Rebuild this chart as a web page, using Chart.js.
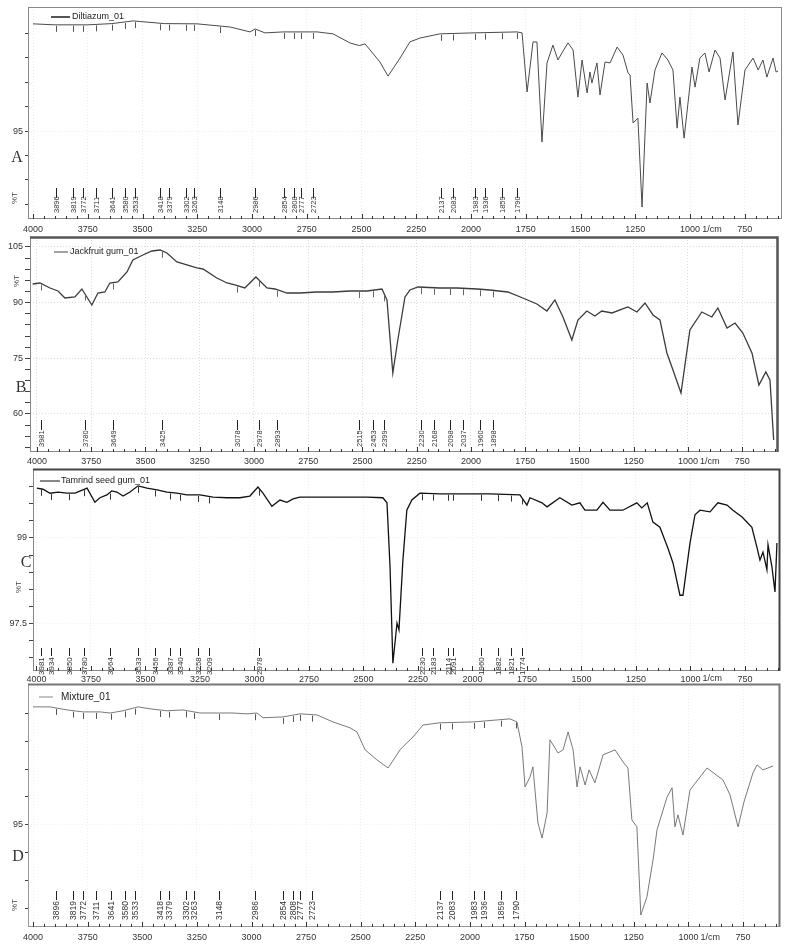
<!DOCTYPE html>
<html>
<head>
<meta charset="utf-8">
<script src="https://cdn.jsdelivr.net/npm/chart.js@4"></script>
<style>
  body { margin: 0; background: #fff; }
  #wrap { position: relative; width: 789px; height: 948px; overflow: hidden; }
  canvas { position: absolute; left: 0; }
</style>
</head>
<body>
<div id="wrap">
  <canvas id="chartA"></canvas>
  <canvas id="chartB"></canvas>
  <canvas id="chartC"></canvas>
  <canvas id="chartD"></canvas>
</div>
<script>
// wavenumber tick labels (1/cm), shared by all four spectra
const xTicks = [4000, 3750, 3500, 3250, 3000, 2750, 2500, 2250, 2000, 1750, 1500, 1250, 1000, 750];
const xUnit = '1/cm';

// A - Diltiazum
const nameA = 'Diltiazum_01';
const wavesA = [4000, 3900, 3750, 3640, 3543, 3400, 3251, 3100, 3009, 2986, 2941, 2858, 2703, 2630, 2553, 2510, 2484, 2416, 2379, 2324, 2279, 2233, 2142, 1991, 1790, 1767, 1744, 1717, 1699, 1676, 1653, 1626, 1603, 1585, 1557, 1534, 1512, 1493, 1470, 1457, 1448, 1425, 1411, 1388, 1365, 1333, 1306, 1283, 1274, 1260, 1238, 1219, 1196, 1183, 1160, 1128, 1101, 1078, 1059, 1046, 1027, 991, 977, 955, 932, 913, 886, 863, 840, 804, 781, 749, 712, 689, 667, 649, 621, 607, 598];
const transA = [99.39, 99.35, 99.35, 99.40, 99.51, 99.40, 99.39, 99.26, 99.06, 99.18, 99.02, 99.06, 99.06, 98.98, 98.61, 98.50, 98.57, 97.83, 97.25, 97.99, 98.65, 98.81, 98.98, 99.02, 99.06, 99.02, 96.60, 98.65, 98.65, 94.55, 97.79, 98.52, 97.91, 98.20, 98.61, 98.32, 96.39, 97.91, 96.56, 97.42, 96.97, 97.79, 96.48, 97.83, 97.79, 98.44, 98.11, 97.38, 97.30, 95.33, 95.53, 91.89, 96.97, 96.15, 97.50, 98.20, 97.91, 97.50, 95.12, 96.39, 94.71, 97.62, 96.80, 97.99, 98.20, 97.42, 98.32, 97.99, 96.27, 98.24, 95.25, 97.50, 97.99, 97.50, 97.91, 97.21, 97.99, 97.42, 97.46];
const peaksA = [3896, 3819, 3772, 3711, 3641, 3580, 3533, 3418, 3379, 3302, 3263, 3148, 2986, 2854, 2808, 2777, 2723, 2137, 2083, 1983, 1936, 1859, 1790];
const yTicksA = [92, 93, 94, 95, 96, 97, 98, 99];
const yLabelsA = [95];

// B - Jackfruit gum
const nameB = 'Jackfruit gum_01';
const wavesB = [4020, 3986, 3940, 3903, 3871, 3825, 3793, 3770, 3747, 3719, 3687, 3664, 3627, 3585, 3558, 3512, 3470, 3433, 3401, 3355, 3309, 3263, 3235, 3171, 3124, 3088, 3042, 2991, 2940, 2903, 2848, 2788, 2710, 2636, 2558, 2479, 2410, 2387, 2360, 2337, 2304, 2281, 2244, 2143, 2065, 1972, 1913, 1830, 1761, 1696, 1650, 1613, 1576, 1535, 1507, 1466, 1429, 1397, 1350, 1277, 1235, 1198, 1161, 1129, 1097, 1069, 1032, 991, 936, 890, 862, 820, 783, 747, 705, 673, 641, 622, 605];
const transB = [95.03, 95.30, 93.95, 93.14, 91.26, 91.53, 93.68, 91.53, 89.37, 92.60, 92.87, 95.30, 95.57, 98.26, 101.50, 102.84, 103.92, 104.19, 103.38, 100.96, 100.15, 99.34, 99.07, 96.65, 95.30, 94.76, 93.95, 96.92, 93.95, 93.68, 92.60, 92.60, 92.87, 92.87, 93.14, 93.14, 93.68, 90.72, 71.05, 79.94, 91.53, 93.41, 94.22, 93.95, 93.95, 93.68, 93.41, 92.87, 91.26, 89.64, 87.75, 90.72, 86.14, 79.94, 85.33, 87.75, 86.41, 87.75, 87.22, 88.83, 87.48, 89.91, 86.68, 85.33, 76.44, 71.86, 65.66, 82.63, 87.48, 86.14, 88.56, 83.17, 84.52, 81.83, 76.44, 67.81, 71.32, 69.16, 53.0];
const peaksB = [3981, 3780, 3649, 3425, 3078, 2978, 2893, 2515, 2453, 2399, 2230, 2168, 2098, 2037, 1960, 1898];
const yTicksB = [51, 54, 57, 60, 63, 66, 69, 72, 75, 78, 81, 84, 87, 90, 93, 96, 99, 102, 105];
const yLabelsB = [60, 75, 90, 105];

// C - Tamrind seed gum
const nameC = 'Tamrind seed gum_01';
const wavesC = [3998, 3970, 3938, 3901, 3860, 3823, 3787, 3768, 3732, 3709, 3677, 3655, 3631, 3603, 3571, 3534, 3493, 3447, 3401, 3356, 3310, 3250, 3190, 3126, 3067, 3021, 2984, 2961, 2920, 2883, 2851, 2823, 2791, 2713, 2640, 2562, 2484, 2411, 2392, 2378, 2365, 2346, 2337, 2319, 2301, 2278, 2241, 2149, 2071, 1920, 1782, 1750, 1736, 1681, 1658, 1599, 1544, 1507, 1484, 1429, 1401, 1369, 1310, 1246, 1223, 1198, 1172, 1140, 1103, 1080, 1048, 1034, 1002, 979, 956, 910, 874, 832, 805, 763, 718, 695, 681, 667, 649, 644, 626, 612, 603];
const transC = [99.88, 99.86, 99.79, 99.81, 99.79, 99.79, 99.85, 99.88, 99.63, 99.71, 99.76, 99.83, 99.81, 99.74, 99.81, 99.92, 99.88, 99.85, 99.81, 99.79, 99.76, 99.76, 99.72, 99.71, 99.71, 99.74, 99.90, 99.79, 99.56, 99.67, 99.63, 99.69, 99.72, 99.72, 99.72, 99.72, 99.72, 99.71, 99.62, 98.49, 96.79, 97.50, 97.38, 98.61, 99.49, 99.67, 99.79, 99.78, 99.78, 99.78, 99.76, 99.58, 99.71, 99.62, 99.55, 99.71, 99.58, 99.62, 99.49, 99.49, 99.63, 99.49, 99.49, 99.62, 99.53, 99.62, 99.28, 99.19, 98.82, 98.56, 97.99, 97.99, 98.91, 99.41, 99.49, 99.46, 99.62, 99.58, 99.49, 99.37, 99.19, 98.84, 98.61, 98.75, 98.44, 98.88, 98.49, 98.05, 98.91];
const peaksC = [3981, 3934, 3850, 3780, 3664, 3533, 3456, 3387, 3340, 3258, 3209, 2978, 2230, 2183, 2114, 2091, 1960, 1882, 1821, 1774];
const yTicksC = [99.9, 99.6, 99.3, 99, 98.7, 98.4, 98.1, 97.8, 97.5, 97.2, 96.9];
const yLabelsC = [99, 97.5];

// D - Mixture
const nameD = 'Mixture_01';
const wavesD = [4000, 3922, 3844, 3771, 3693, 3648, 3588, 3519, 3464, 3387, 3313, 3236, 3085, 3021, 2975, 2947, 2856, 2778, 2700, 2627, 2549, 2517, 2480, 2426, 2375, 2320, 2307, 2261, 2215, 2137, 1986, 1817, 1785, 1762, 1748, 1725, 1712, 1689, 1670, 1647, 1634, 1597, 1574, 1551, 1528, 1510, 1496, 1473, 1455, 1428, 1391, 1336, 1300, 1277, 1259, 1236, 1218, 1190, 1162, 1144, 1098, 1075, 1062, 1048, 1025, 993, 915, 842, 810, 773, 746, 705, 686, 659, 613];
const transD = [99.23, 99.23, 99.12, 99.05, 99.05, 99.01, 99.09, 99.23, 99.16, 99.09, 99.12, 99.01, 99.01, 98.98, 99.01, 98.84, 98.87, 98.98, 98.94, 98.69, 98.48, 98.33, 97.69, 97.33, 97.04, 97.69, 97.80, 98.15, 98.58, 98.66, 98.69, 98.80, 98.69, 97.80, 96.36, 96.72, 97.08, 95.07, 94.53, 95.43, 98.05, 97.58, 97.69, 98.33, 97.69, 96.36, 97.08, 96.43, 96.97, 96.51, 97.51, 97.69, 97.26, 97.04, 95.18, 94.93, 91.77, 92.42, 93.75, 94.82, 96.00, 96.33, 94.93, 95.36, 94.64, 96.25, 97.04, 96.61, 96.08, 94.93, 95.82, 96.86, 97.15, 96.97, 97.11];
const peaksD = [3896, 3819, 3772, 3711, 3641, 3580, 3533, 3418, 3379, 3302, 3263, 3148, 2986, 2854, 2808, 2777, 2723, 2137, 2083, 1983, 1936, 1859, 1790];
const yTicksD = [92, 93, 94, 95, 96, 97, 98, 99];
const yLabelsD = [95];

const FONT = '"Liberation Sans", Arial, sans-serif';

// %T at a wavenumber (for the little peak marks)
function valueAt(w, waves, trans) {
    for (let i = 0; i < waves.length - 1; i++) {
        if (waves[i] >= w && waves[i + 1] <= w) {
            const f = (waves[i] - w) / (waves[i] - waves[i + 1]);
            return trans[i] + (trans[i + 1] - trans[i]) * f;
        }
    }
    return trans[trans.length - 1];
}

const panelPlugin = {
    id: 'panel',
    afterDraw(chart, args, o) {
        const ctx = chart.ctx, a = chart.chartArea;
        const xs = chart.scales.x, ys = chart.scales.y;
        const off = o.top;
        ctx.save();

        // plot frame
        ctx.strokeStyle = o.frame;
        ctx.lineWidth = 1;
        ctx.strokeRect(a.left + 0.5, a.top + 0.5, a.width - 1, a.height - 1);
        if (o.heavy) {
            ctx.lineWidth = o.heavy;
            ctx.strokeStyle = o.heavyColor;
            ctx.beginPath();
            ctx.moveTo(a.left, a.top + 0.5);
            ctx.lineTo(a.right - 0.5, a.top + 0.5);
            ctx.lineTo(a.right - 0.5, a.bottom);
            ctx.stroke();
        }

        // inner ticks on the wavenumber axis, every 50 1/cm
        ctx.strokeStyle = '#333';
        ctx.lineWidth = 1;
        for (let w = 4000; w >= 600; w -= 50) {
            const px = Math.round(xs.getPixelForValue(w)) + 0.5;
            const len = w % 250 === 0 ? 5 : 3;
            ctx.beginPath();
            ctx.moveTo(px, a.bottom);
            ctx.lineTo(px, a.bottom - len);
            ctx.stroke();
        }

        // unit label in the tick row
        ctx.fillStyle = '#333';
        ctx.font = '9px ' + FONT;
        ctx.textAlign = 'center';
        ctx.textBaseline = 'middle';
        ctx.fillText(xUnit, xs.getPixelForValue(900), o.labelY - off);

        // peak annotations
        const waves = o.waves, trans = o.trans;
        ctx.strokeStyle = '#222';
        ctx.fillStyle = '#333';
        ctx.font = o.peakFont + 'px ' + FONT;
        o.peaks.forEach(w => {
            const px = Math.round(xs.getPixelForValue(w)) + 0.5;
            ctx.beginPath();
            ctx.moveTo(px, o.lineTop - off);
            ctx.lineTo(px, o.lineBottom - off);
            ctx.stroke();
            ctx.save();
            ctx.translate(px, o.textBottom - off);
            ctx.rotate(-Math.PI / 2);
            ctx.textAlign = 'left';
            ctx.textBaseline = 'middle';
            ctx.fillText(String(w), 0, 0);
            ctx.restore();
            const cy = ys.getPixelForValue(valueAt(w, waves, trans));
            ctx.strokeStyle = o.markColor;
            ctx.beginPath();
            ctx.moveTo(px, cy + 1);
            ctx.lineTo(px, cy + 7);
            ctx.stroke();
            ctx.strokeStyle = '#222';
        });

        // legend
        ctx.strokeStyle = o.legendLine;
        ctx.lineWidth = o.legendWidth;
        ctx.beginPath();
        ctx.moveTo(o.legend[0], o.legend[2] - off);
        ctx.lineTo(o.legend[1], o.legend[2] - off);
        ctx.stroke();
        ctx.fillStyle = '#222';
        ctx.font = o.legendFont + 'px ' + FONT;
        ctx.textAlign = 'left';
        ctx.textBaseline = 'middle';
        ctx.fillText(chart.data.datasets[0].label, o.legend[3], o.legend[2] - off);

        // %T and panel letter
        ctx.save();
        ctx.translate(o.tPos[0], o.tPos[1] - off);
        ctx.rotate(-Math.PI / 2);
        ctx.font = '8px ' + FONT;
        ctx.fillStyle = '#444';
        ctx.textAlign = 'center';
        ctx.fillText('%T', 0, 0);
        ctx.restore();
        ctx.font = '16px "Liberation Serif", "DejaVu Serif", serif';
        ctx.fillStyle = '#333';
        ctx.textAlign = 'center';
        ctx.textBaseline = 'middle';
        ctx.fillText(o.letter, o.letterPos[0], o.letterPos[1] - off);

        ctx.restore();
    }
};

function makePanel(id, p) {
    const canvas = document.getElementById(id);
    const h = p.canvasBottom - p.top;
    canvas.width = 789;
    canvas.height = h;
    canvas.style.top = p.top + 'px';
    canvas.style.width = '789px';
    canvas.style.height = h + 'px';

    new Chart(canvas, {
        type: 'line',
        data: {
            datasets: [{
                label: p.name,
                data: p.waves.map((w, i) => ({ x: w, y: p.trans[i] })),
                borderColor: p.color,
                borderWidth: p.width,
                pointRadius: 0,
                tension: 0,
                fill: false
            }]
        },
        options: {
            responsive: false,
            animation: false,
            devicePixelRatio: 1,
            events: [],
            layout: { padding: { left: 0, right: 789 - p.box.right, top: p.box.top - p.top, bottom: 0 } },
            plugins: {
                legend: { display: false },
                tooltip: { enabled: false },
                panel: {
                    top: p.top, frame: p.frame, heavy: p.heavy, heavyColor: p.heavyColor,
                    labelY: p.labelY, waves: p.waves, trans: p.trans, peaks: p.peaks,
                    lineTop: p.lineTop, lineBottom: p.lineBottom, textBottom: p.textBottom,
                    peakFont: p.peakFont, markColor: p.markColor,
                    legend: p.legend, legendLine: p.legendLine, legendWidth: p.legendWidth,
                    legendFont: p.legendFont, tPos: p.tPos, letter: p.letter, letterPos: p.letterPos
                }
            },
            scales: {
                x: {
                    type: 'linear',
                    reverse: true,
                    min: p.xMin,
                    max: p.xMax,
                    afterBuildTicks: s => { s.ticks = xTicks.map(v => ({ value: v })); },
                    afterFit: s => { s.height = p.canvasBottom - p.box.bottom; },
                    ticks: {
                        autoSkip: false, maxRotation: 0, padding: p.xPad, color: '#333',
                        font: { family: FONT, size: 9, lineHeight: 1 },
                        callback: v => String(v)
                    },
                    grid: { color: p.grid, drawTicks: false, lineWidth: 1 },
                    border: { display: false, dash: [1, 2] }
                },
                y: {
                    type: 'linear',
                    min: p.yMin,
                    max: p.yMax,
                    afterBuildTicks: s => { s.ticks = p.yTicks.map(v => ({ value: v })); },
                    afterFit: s => { s.width = p.box.left; },
                    ticks: {
                        autoSkip: false, padding: 2, color: '#333',
                        font: { family: FONT, size: 9, lineHeight: 1 },
                        callback: v => p.yLabels.some(l => Math.abs(l - v) < 1e-6) ? String(v) : ''
                    },
                    grid: {
                        color: c => p.yLabels.some(l => Math.abs(l - c.tick.value) < 1e-6) ? p.grid : 'rgba(0,0,0,0)',
                        tickColor: '#444',
                        tickLength: p.yTickLen,
                        drawTicks: true
                    },
                    border: { display: false, dash: [1, 2] }
                }
            }
        },
        plugins: [panelPlugin]
    });
}

makePanel('chartA', {
    name: nameA, waves: wavesA, trans: transA, peaks: peaksA, yTicks: yTicksA, yLabels: yLabelsA,
    top: 0, canvasBottom: 238, box: { left: 28, right: 782, top: 7, bottom: 219 },
    xMin: 580, xMax: 4023, yMin: 91.4, yMax: 100.08, xPad: 6, yTickLen: 3,
    color: '#4a4a4a', width: 1, frame: '#8a8a8a', heavy: 0, heavyColor: '#888', grid: '#ececec',
    labelY: 230, lineTop: 188, lineBottom: 198, textBottom: 213, peakFont: 7.5, markColor: '#555',
    legend: [51, 70, 17, 72], legendLine: '#555', legendWidth: 2, legendFont: 9,
    tPos: [15, 198], letter: 'A', letterPos: [17, 158]
});

makePanel('chartB', {
    name: nameB, waves: wavesB, trans: transB, peaks: peaksB, yTicks: yTicksB, yLabels: yLabelsB,
    top: 227, canvasBottom: 468, box: { left: 30, right: 778, top: 237, bottom: 452 },
    xMin: 585, xMax: 4032, yMin: 49.76, yMax: 107.69, xPad: 5, yTickLen: 5,
    color: '#3c3c3c', width: 1.3, frame: '#888', heavy: 2.5, heavyColor: '#555', grid: '#dcdcdc',
    labelY: 462, lineTop: 420, lineBottom: 430, textBottom: 447, peakFont: 7.5, markColor: '#666',
    legend: [54, 68, 252, 70], legendLine: '#444', legendWidth: 1, legendFont: 9,
    tPos: [17, 281], letter: 'B', letterPos: [21, 388]
});

makePanel('chartC', {
    name: nameC, waves: wavesC, trans: transC, peaks: peaksC, yTicks: yTicksC, yLabels: yLabelsC,
    top: 459, canvasBottom: 686, box: { left: 33, right: 780, top: 469, bottom: 671 },
    xMin: 589, xMax: 4016, yMin: 96.654, yMax: 100.217, xPad: 4, yTickLen: 4,
    color: '#111', width: 1.3, frame: '#888', heavy: 2, heavyColor: '#444', grid: '#eeeeee',
    labelY: 679, lineTop: 648, lineBottom: 656, textBottom: 675, peakFont: 8, markColor: '#333',
    legend: [40, 60, 481, 61], legendLine: '#111', legendWidth: 1, legendFont: 9,
    tPos: [19, 587], letter: 'C', letterPos: [26, 563]
});

makePanel('chartD', {
    name: nameD, waves: wavesD, trans: transD, peaks: peaksD, yTicks: yTicksD, yLabels: yLabelsD,
    top: 674, canvasBottom: 948, box: { left: 28, right: 780, top: 684, bottom: 927 },
    xMin: 581, xMax: 4023, yMin: 91.34, yMax: 100.05, xPad: 6, yTickLen: 3,
    color: '#6a6a6a', width: 0.9, frame: '#999', heavy: 2, heavyColor: '#777', grid: '#efefef',
    labelY: 938, lineTop: 891, lineBottom: 900, textBottom: 920, peakFont: 8.5, markColor: '#555',
    legend: [39, 53, 697, 61], legendLine: '#888', legendWidth: 1, legendFont: 10,
    tPos: [15, 905], letter: 'D', letterPos: [18, 857]
});
</script>
</body>
</html>
